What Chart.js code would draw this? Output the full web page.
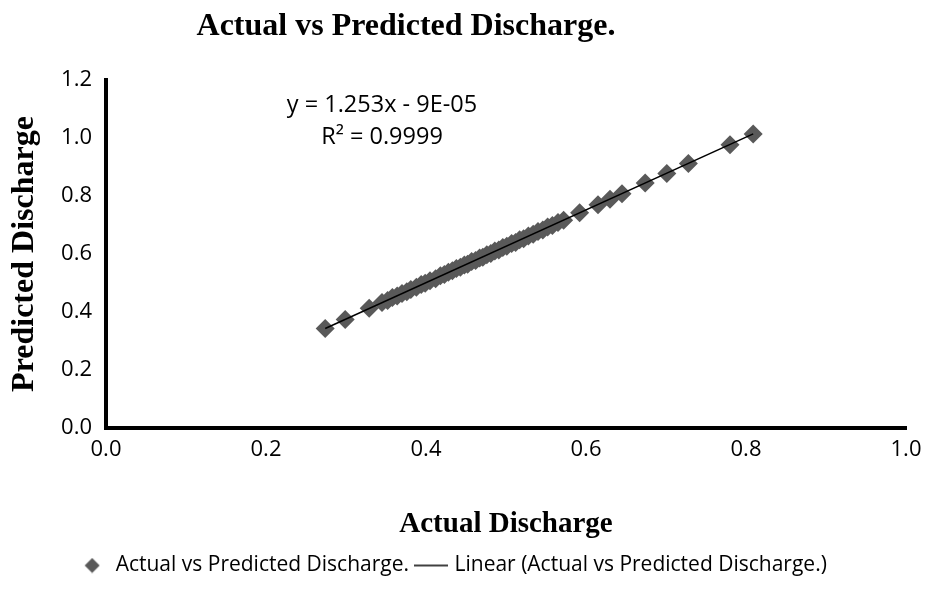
<!DOCTYPE html>
<html>
<head>
<meta charset="utf-8">
<script src="https://cdn.jsdelivr.net/npm/chart.js@4/dist/chart.umd.min.js"></script>
<style>
html,body{margin:0;padding:0;background:#fff;}
#wrap{width:925px;height:590px;position:relative;}
</style>
</head>
<body>
<div id="wrap"><canvas id="c" width="925" height="590"></canvas></div>
<script>
const actual = [0.274,0.299,0.329,0.345,0.352,0.358,0.364,0.370,0.376,0.381,0.388,0.394,0.399,0.405,0.412,0.418,0.423,0.428,0.433,0.438,0.443,0.448,0.452,0.457,0.462,0.467,0.471,0.476,0.481,0.486,0.491,0.496,0.501,0.507,0.512,0.517,0.522,0.528,0.534,0.540,0.546,0.552,0.558,0.565,0.572,0.592,0.615,0.630,0.645,0.674,0.701,0.728,0.780,0.809];
const predicted = [0.343,0.374,0.413,0.433,0.440,0.450,0.455,0.464,0.470,0.478,0.485,0.495,0.499,0.508,0.515,0.525,0.529,0.537,0.542,0.550,0.554,0.562,0.565,0.574,0.578,0.586,0.589,0.597,0.602,0.610,0.614,0.622,0.627,0.636,0.640,0.649,0.653,0.662,0.668,0.678,0.683,0.693,0.698,0.709,0.716,0.742,0.770,0.789,0.808,0.845,0.878,0.912,0.977,1.014];
const trendX = [0.274, 0.809];
const trendY = [0.343, 1.014];
const xTicks = [0.0,0.2,0.4,0.6,0.8,1.0];
const yTicks = [0.0,0.2,0.4,0.6,0.8,1.0,1.2];
const seriesName = 'Actual vs Predicted Discharge.';
const trendName = 'Linear (Actual vs Predicted Discharge.)';
const chartTitle = 'Actual vs Predicted Discharge.';
const eqLines = ['y = 1.253x - 9E-05', 'R\u00B2 = 0.9999'];

const sansFont = "'Open Sans', sans-serif";
const serifFont = "'Liberation Serif', 'Times New Roman', serif";

// legend symbols
function makeDiamond() {
  const c = document.createElement('canvas');
  c.width = 16; c.height = 16;
  const g = c.getContext('2d');
  g.fillStyle = '#595959';
  g.beginPath(); g.moveTo(8, 0.5); g.lineTo(15.5, 8); g.lineTo(8, 15.5); g.lineTo(0.5, 8); g.closePath(); g.fill();
  return c;
}
function makeLine() {
  const c = document.createElement('canvas');
  c.width = 34; c.height = 4;
  const g = c.getContext('2d');
  g.strokeStyle = '#000'; g.lineWidth = 1.5;
  g.beginPath(); g.moveTo(0, 2); g.lineTo(34, 2); g.stroke();
  return c;
}
const diamondImg = makeDiamond();
const lineImg = makeLine();

const textPlugin = {
  id: 'texts',
  afterDraw(chart) {
    const ctx = chart.ctx;
    ctx.save();
    ctx.fillStyle = '#000';
    ctx.textAlign = 'center';
    ctx.textBaseline = 'middle';
    ctx.font = "bold 32px " + serifFont;
    ctx.fillText(chartTitle, 406, 27);
    ctx.font = "23.5px " + sansFont;
    const xs = chart.scales.x, ys = chart.scales.y;
    ctx.fillText(eqLines[0], xs.getPixelForValue(0.345), ys.getPixelForValue(1.114));
    ctx.fillText(eqLines[1], xs.getPixelForValue(0.345), ys.getPixelForValue(1.003));
    ctx.restore();
  }
};

new Chart(document.getElementById('c'), {
  type: 'scatter',
  data: {
    datasets: [
      {
        label: seriesName,
        data: actual.map((a, i) => ({x: a, y: predicted[i]})),
        pointStyle: 'rectRot',
        pointRadius: 9.5,
        pointHoverRadius: 9.5,
        backgroundColor: '#595959',
        borderColor: '#595959',
        borderWidth: 0,
        showLine: false,
        order: 2
      },
      {
        label: trendName,
        type: 'line',
        data: trendX.map((a, i) => ({x: a, y: trendY[i]})),
        borderColor: '#000',
        backgroundColor: '#000',
        borderWidth: 1.5,
        pointRadius: 0,
        fill: false,
        order: 1
      }
    ]
  },
  options: {
    responsive: false,
    animation: false,
    devicePixelRatio: 1,
    layout: { padding: { top: 80, left: 0, right: 19, bottom: 4 } },
    plugins: {
      title: { display: false },
      tooltip: { enabled: false },
      legend: {
        display: true,
        position: 'bottom',
        labels: {
          usePointStyle: true,
          pointStyleWidth: 26,
          color: '#000',
          font: { family: sansFont, size: 21 },
          padding: 9,
          generateLabels(chart) {
            return [
              { text: seriesName, pointStyle: diamondImg, fillStyle: '#595959', strokeStyle: '#595959', lineWidth: 0, datasetIndex: 0, fontColor: '#000' },
              { text: trendName, pointStyle: lineImg, fillStyle: '#000', strokeStyle: '#000', lineWidth: 1.5, datasetIndex: 1, fontColor: '#000' }
            ];
          }
        }
      }
    },
    scales: {
      x: {
        type: 'linear',
        min: 0, max: 1,
        afterBuildTicks(s) { s.ticks = xTicks.map(v => ({value: v})); },
        afterFit(s) { s.height = 118; s.paddingRight = 0; },
        ticks: {
          color: '#000',
          font: { family: sansFont, size: 22 },
          padding: 9,
          callback: v => v.toFixed(1)
        },
        grid: { display: false, drawTicks: false },
        border: { display: true, color: '#000', width: 4 },
        title: {
          display: true,
          text: 'Actual Discharge',
          color: '#000',
          font: { family: serifFont, size: 29, weight: 'bold' },
          padding: { top: 30, bottom: 4 }
        }
      },
      y: {
        type: 'linear',
        min: 0, max: 1.2,
        afterBuildTicks(s) { s.ticks = yTicks.map(v => ({value: v})); },
        afterFit(s) { s.width = 106; },
        ticks: {
          color: '#000',
          font: { family: sansFont, size: 22 },
          padding: 14,
          callback: v => v.toFixed(1)
        },
        grid: { display: false, drawTicks: false },
        border: { display: true, color: '#000', width: 4 },
        title: {
          display: true,
          text: 'Predicted Discharge',
          color: '#000',
          font: { family: serifFont, size: 32, weight: 'bold' },
          padding: { top: 6, bottom: 0 }
        }
      }
    }
  },
  plugins: [textPlugin]
});
</script>
</body>
</html>
